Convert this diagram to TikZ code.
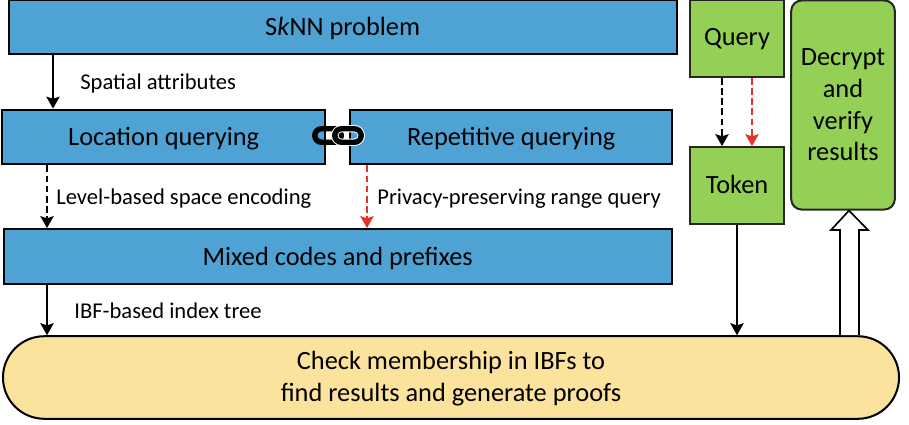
\documentclass[tikz,border=0pt]{standalone}
\usepackage{fontspec}
\setmainfont{Carlito}
\usetikzlibrary{arrows.meta}
\definecolor{boxblue}{HTML}{4FA3D4}
\definecolor{boxgreen}{HTML}{94D055}
\definecolor{boxyellow}{HTML}{FBE29D}
\definecolor{linkred}{HTML}{E53227}
\tikzset{
    blk/.style={draw=black, line width=1.15pt, fill=boxblue, font=\fontsize{15}{18}\selectfont, inner sep=0pt},
    grn/.style={blk, fill=boxgreen, draw=black!85},
    txt/.style={text height=13pt, text depth=2.8pt},
    lbl/.style={right, inner sep=0pt, font=\fontsize{12.85}{15}\selectfont},
    arr/.style={-{Stealth[length=6.8pt, width=7.6pt, inset=1.2pt]}, line width=0.95pt},
    dsh/.style={dash pattern=on 3.8pt off 2pt},
    redarr/.style={arr, dsh, draw=linkred, -{Stealth[length=6.8pt, width=7.6pt, inset=1.2pt, fill=linkred]}},
    lnk/.style={draw=black, line width=3.1pt, rounded corners=3.8pt, minimum width=15pt, minimum height=7.7pt, inner sep=0pt}
}
\begin{document}
\begin{tikzpicture}[x=0.02cm, y=-0.02cm]
            \useasboundingbox (0,0) rectangle (909,424);
            % blue boxes
            \node [blk, txt, minimum width=380.4pt, minimum height=31.2pt] (problem) at (342.7,27) {S\textit{k}NN problem};
            \node [blk, txt, minimum width=183.7pt, minimum height=31.2pt] (location) at (163.7,137) {Location querying};
            \node [blk, txt, minimum width=183.1pt, minimum height=31.2pt] (repetitive) at (511.2,137) {Repetitive querying};
            \node [blk, txt, minimum width=380.4pt, minimum height=31.2pt] (mixed) at (337.7,256.5) {Mixed codes and prefixes};
            % green boxes
            \node [grn, text height=10.2pt, text depth=2.8pt, minimum width=53.3pt, minimum height=43.7pt] (query) at (737,38.5) {Query};
            \node [grn, text height=12.4pt, text depth=2.8pt, minimum width=53.3pt, minimum height=43.7pt] (token) at (737,185.5) {Token};
            \node [grn, rounded corners=6pt, minimum width=59pt, minimum height=119pt, align=center] (decrypt) at (843,105) {Decrypt\\and\\verify\\results};
            % yellow box
            \node [blk, fill=boxyellow, text depth=1.3pt, rounded corners=23.5pt, minimum width=510pt, minimum height=47pt, align=center] (check) at (451,377.5) {Check membership in IBFs to\\find results and generate proofs};
            % chain link
            \node [lnk] (linkl) at (328,135.5) {};
            \node [lnk, draw=white, line width=4.2pt] (halo) at (348,135.5) {};
            \node [lnk] (linkr) at (348,135.5) {};
            % connector positions
            \coordinate (xa) at (53,0);
            \coordinate (xb) at (47,0);
            \coordinate (xc) at (367,0);
            \coordinate (xd) at (722,0);
            \coordinate (xe) at (752,0);
            \draw [arr] (problem.south -| xa) -- (location.north -| xa);
            \draw [arr, dsh] (location.south -| xb) -- (mixed.north -| xb);
            \draw [redarr] (repetitive.south -| xc) -- (mixed.north -| xc);
            \draw [arr] (mixed.south -| xb) -- (check.north -| xb);
            \draw [arr, dsh] (query.south -| xd) -- (token.north -| xd);
            \draw [redarr] (query.south -| xe) -- (token.north -| xe);
            \draw [arr] (token.south) -- (check.north -| token.south);
            % hollow arrow
            \coordinate (xf) at (849,0);
            \draw [line width=0.95pt, fill=white] (check.north -| 840,0) -- (840,230) -- (831,230) -- (decrypt.south -| xf) -- (868,230) -- (859,230) -- (check.north -| 859,0);
            % labels
            \node [lbl] (attr) at (80,83.5) {Spatial attributes};
            \node [lbl] (level) at (56,198.5) {Level-based space encoding};
            \node [lbl] (range) at (377,198.5) {Privacy-preserving range query};
            \node [lbl] (ibf) at (74,311) {IBF-based index tree};
        \end{tikzpicture}
\end{document}
